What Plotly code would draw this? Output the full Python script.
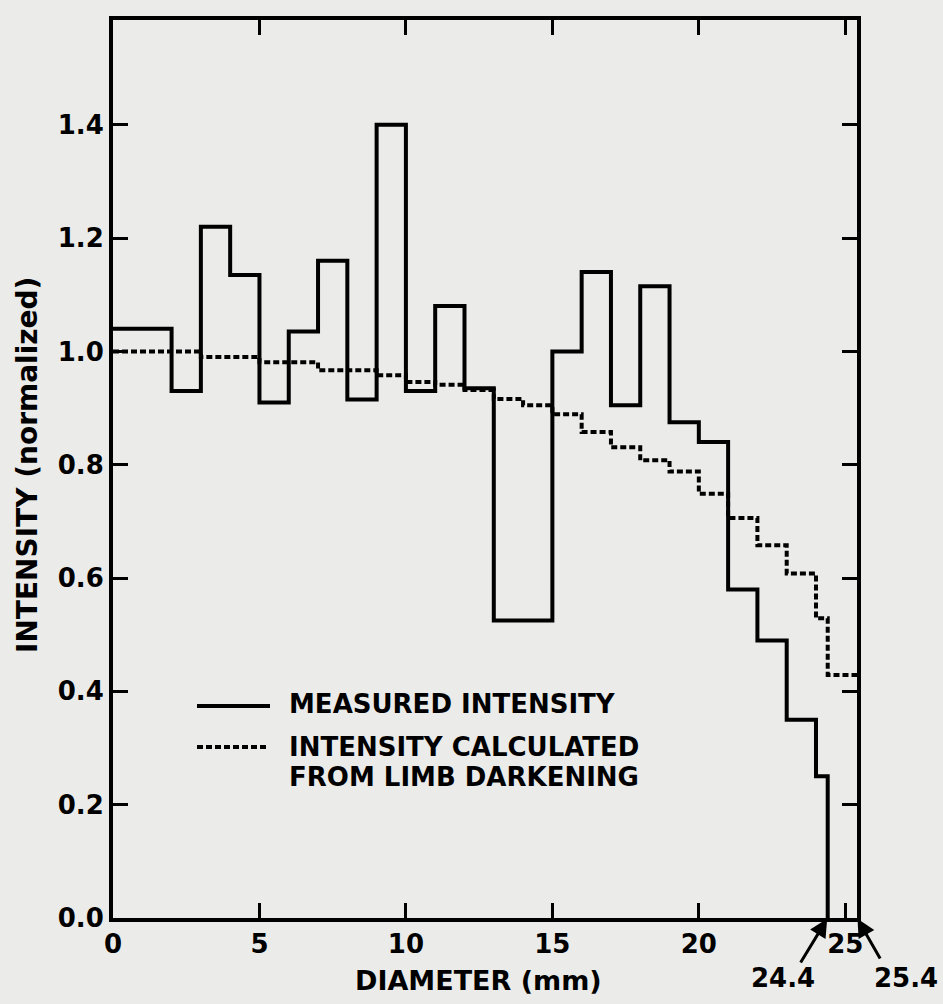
import plotly.graph_objects as go

# ── Data ──────────────────────────────────────────────────────────────────────

# measured intensity: bin edges (mm) and the level of each bin
measured_edges = [0, 2, 3, 4, 5, 6, 7, 8, 9, 10, 11, 12, 13, 15, 16, 17, 18,
                  19, 20, 21, 22, 23, 24, 24.4]
measured_vals = [1.04, 0.93, 1.22, 1.135, 0.91, 1.035, 1.16, 0.915, 1.40, 0.93,
                 1.08, 0.935, 0.525, 1.00, 1.14, 0.905, 1.115, 0.875, 0.84,
                 0.58, 0.49, 0.35, 0.25]

# calculated from limb darkening
calc_edges = [0, 1, 2, 3, 4, 5, 6, 7, 8, 9, 10, 11, 12, 13, 14, 15, 16, 17,
              18, 19, 20, 21, 22, 23, 24, 24.4, 25.4]
calc_vals = [1.00, 1.00, 1.00, 0.99, 0.99, 0.981, 0.981, 0.967, 0.967, 0.958,
             0.946, 0.941, 0.932, 0.916, 0.905, 0.889, 0.858, 0.831, 0.808,
             0.788, 0.749, 0.706, 0.658, 0.608, 0.529, 0.429]

x_ticks = [0, 5, 10, 15, 20, 25]
y_ticks = [0.0, 0.2, 0.4, 0.6, 0.8, 1.0, 1.2, 1.4]

FONT = "DejaVu Sans"
BG = "#ebebea"

# plot area in page pixels (used to place the hand-drawn bits)
L, R, T, B = 113, 857, 20, 918
W, H = R - L, B - T


def px(x):
    return (x - L) / W


def py(y):
    return (B - y) / H


fig = go.Figure()

# measured: step levels, then the drop to zero at 24.4 mm
fig.add_trace(go.Scatter(
    x=measured_edges, y=measured_vals + [0.0],
    mode="lines", line=dict(color="black", width=4, shape="hv"),
    showlegend=False,
))

fig.add_trace(go.Scatter(
    x=calc_edges, y=calc_vals + [calc_vals[-1]],
    mode="lines", line=dict(color="black", width=4, shape="hv", dash="6px,3px"),
    showlegend=False,
))

# hand-drawn legend inside the plot
fig.add_shape(type="line", xref="paper", yref="paper",
              x0=px(197), x1=px(270), y0=py(706), y1=py(706),
              line=dict(color="black", width=4))
fig.add_shape(type="line", xref="paper", yref="paper",
              x0=px(197), x1=px(268), y0=py(747), y1=py(747),
              line=dict(color="black", width=4, dash="6px,3px"))

legend_font = dict(family=FONT, size=26, color="black", weight="bold")
for txt, ypix in [("MEASURED INTENSITY", 704),
                  ("INTENSITY CALCULATED", 747),
                  ("FROM LIMB DARKENING", 777)]:
    fig.add_annotation(text=txt, xref="paper", yref="paper",
                       x=px(287), y=py(ypix),
                       xanchor="left", yanchor="middle", showarrow=False,
                       font=legend_font)

# edge markers under the axis: arrows, then their labels
label_font = dict(family=FONT, size=26, color="black", weight="bold")
for xv, ax, ay in [(24.4, -28, 46), (25.4, 24, 42)]:
    fig.add_annotation(text="", x=xv, y=0, xref="x", yref="y",
                       ax=ax, ay=ay, showarrow=True, arrowhead=2, arrowsize=1.2,
                       arrowwidth=3, arrowcolor="black", standoff=1)
for txt, xpix in [("24.4", 783), ("25.4", 906)]:
    fig.add_annotation(text=txt, xref="paper", yref="paper",
                       x=px(xpix), y=py(978), xanchor="center", yanchor="middle",
                       showarrow=False, font=label_font)

# axis titles as annotations for exact placement
fig.add_annotation(text="DIAMETER (mm)", xref="paper", yref="paper",
                   x=px(478), y=py(980),
                   xanchor="center", yanchor="middle", showarrow=False,
                   font=dict(family=FONT, size=27, color="black", weight="bold"))
fig.add_annotation(text="INTENSITY (normalized)", xref="paper", yref="paper",
                   x=px(28), y=py(465), textangle=-90,
                   xanchor="center", yanchor="middle", showarrow=False,
                   font=dict(family=FONT, size=28, color="black", weight="bold"))

axis_common = dict(
    showline=True, linecolor="black", linewidth=4, mirror="ticks",
    ticks="inside", ticklen=15, tickwidth=3, tickcolor="black",
    showgrid=False, zeroline=False,
    tickfont=dict(family=FONT, size=26, color="black", weight="bold"),
)

fig.update_xaxes(range=[0, 25.4], tickvals=x_ticks,
                 ticktext=[str(v) for v in x_ticks], **axis_common)
fig.update_yaxes(range=[0, 1.585], tickvals=y_ticks,
                 ticktext=[f"{v:.1f}" for v in y_ticks], **axis_common)

fig.update_layout(
    width=943, height=1004,
    margin=dict(l=L, r=943 - R, t=T, b=1004 - B),
    paper_bgcolor=BG, plot_bgcolor=BG,
    showlegend=False,
)

# drop the page's default body margin so the figure sits at the window corner
fig.write_html(
    "out.html",
    config={"displayModeBar": False},
    post_script=f"document.body.style.margin='0';document.body.style.background='{BG}';",
)
